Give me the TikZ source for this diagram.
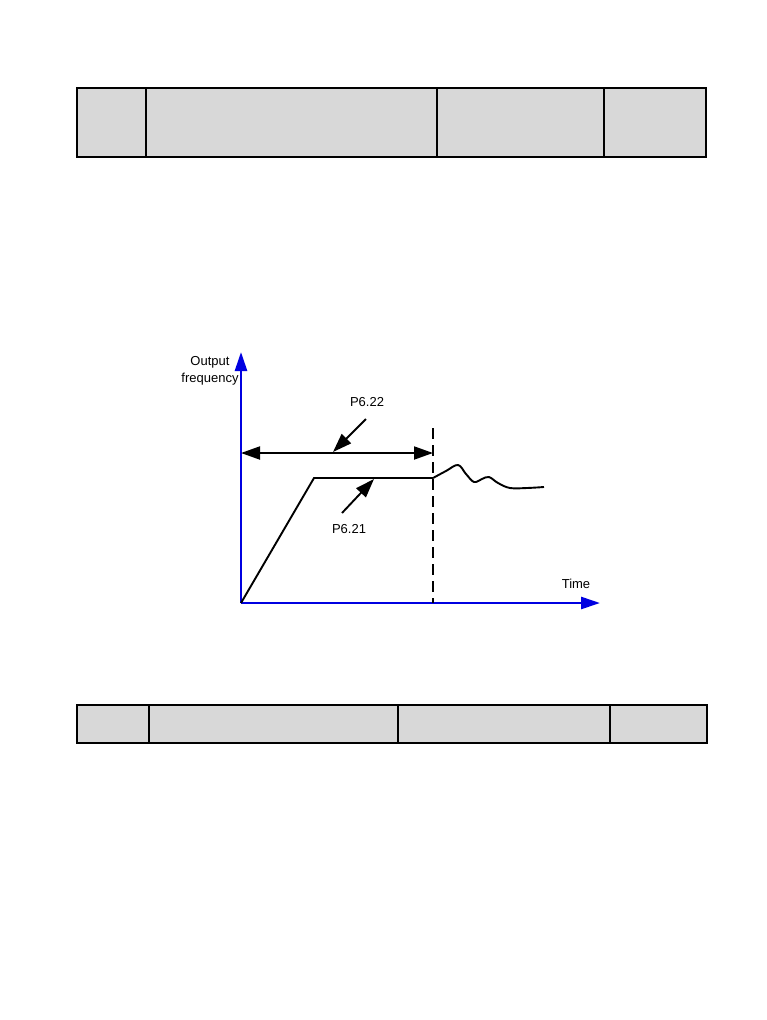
\documentclass[tikz,border=0pt]{standalone}
\usepackage{fontspec}
\setmainfont{Liberation Sans}
\usetikzlibrary{arrows.meta,positioning}
\definecolor{axisblue}{RGB}{0,0,225}
\definecolor{cellgray}{RGB}{216,216,216}

\begin{document}
\begin{tikzpicture}[x=1pt, y=-1pt, >=Stealth,
  lbl/.style={font=\fontsize{13}{17}\selectfont, inner sep=0pt},
  axis/.style={axisblue, line width=2.6pt, -{Triangle[length=19pt,width=12pt]}},
  curve/.style={black, line width=1.9pt},
  ptr/.style={black, line width=1.9pt, -{Triangle[length=19pt,width=13pt]}},
  cell/.style={fill=cellgray, draw=black, line width=2pt}]
\useasboundingbox (0,0) rectangle (766,1020);
% upper table row
\draw[cell] (77,88) rectangle (706,157);
\foreach \cx in {146,437,604}
  \draw[black, line width=2pt] (\cx,88) -- (\cx,157);
% lower table row
\draw[cell] (77,705) rectangle (707,743);
\foreach \cx in {149,398,610}
  \draw[black, line width=2pt] (\cx,705) -- (\cx,743);
% axes
\coordinate (o) at (241,603);
\coordinate (ytop) at (241,352);
\coordinate (xend) at (600,603);
\draw[axis] (o) -- (ytop);
\draw[axis] (o) -- (xend);
\node[lbl, align=center] (ylab) at (210,371) {Output\\frequency};
\node[lbl] (xlab) at (576,584) {Time};
% frequency curve
\coordinate (knee) at (314,478);
\coordinate (cut) at (433,478);
\draw[curve] (o) -- (knee) -- (cut);
\draw[curve, line join=round] plot[smooth, tension=0.6] coordinates
  {(433,478) (446,471) (458,465) (466,474) (474,482) (482,479) (489,477)
   (498,483) (510,488) (527,488) (544,487)};
% dashed limit
\coordinate (dtop) at (433,428);
\coordinate (dbot) at (433,603);
\draw[black, line width=1.9pt, dash pattern=on 11pt off 6pt] (dtop) -- (dbot);
% time span
\coordinate (spanl) at (241,453);
\coordinate (spanr) at (433,453);
\draw[ptr, {Triangle[length=19pt,width=13pt]}-{Triangle[length=19pt,width=13pt]}] (spanl) -- (spanr);
% labels with pointers
\node[lbl] (p22) at (367,402) {P6.22};
\coordinate (p22s) at (366,419);
\coordinate (p22t) at (333,452);
\draw[ptr] (p22s) -- (p22t);
\node[lbl] (p21) at (349,529) {P6.21};
\coordinate (p21s) at (342,513);
\coordinate (p21t) at (374,479);
\draw[ptr] (p21s) -- (p21t);
\end{tikzpicture}
\end{document}
